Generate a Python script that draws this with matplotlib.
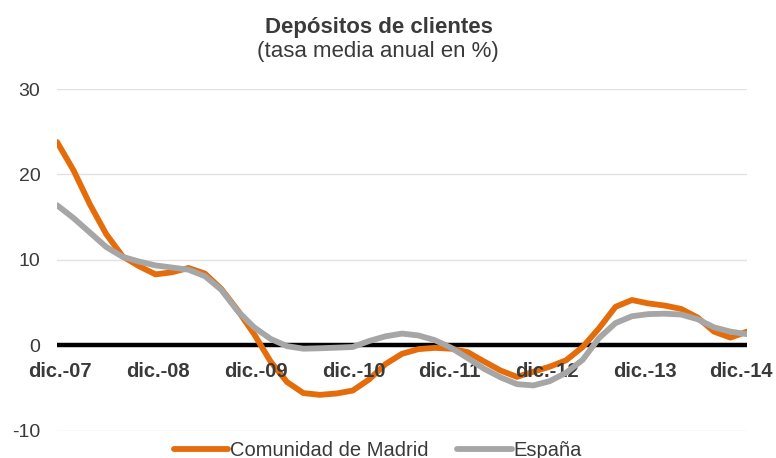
import numpy as np
import matplotlib
matplotlib.use("Agg")
import matplotlib.pyplot as plt

plt.rcParams['font.family'] = ['Liberation Sans', 'DejaVu Sans']
plt.rcParams['axes.unicode_minus'] = False

# months since dic.-07, one value every two months
meses = list(range(0, 85, 2))

madrid = [23.8, 20.5, 16.5, 13.0, 10.4, 9.25, 8.3, 8.55, 9.05, 8.4,
          6.6, 4.1, 1.3, -1.9, -4.3, -5.6, -5.8, -5.65, -5.3, -4.0,
          -2.2, -1.0, -0.45, -0.3, -0.4, -0.8, -1.9, -2.95, -3.7, -3.1,
          -2.5, -1.75, -0.2, 2.0, 4.5, 5.3, 4.9, 4.65, 4.25, 3.25,
          1.6, 0.9, 1.6]

espana = [16.4, 14.9, 13.2, 11.5, 10.35, 9.8, 9.35, 9.1, 8.85, 8.1,
          6.5, 4.0, 2.1, 0.75, -0.1, -0.4, -0.35, -0.28, -0.2, 0.5,
          1.05, 1.37, 1.15, 0.6, -0.3, -1.5, -2.75, -3.75, -4.55, -4.7,
          -4.2, -3.2, -1.7, 0.85, 2.6, 3.4, 3.65, 3.7, 3.6, 3.05,
          2.1, 1.6, 1.3]

etiquetas = ['dic.-07', 'dic.-08', 'dic.-09', 'dic.-10',
             'dic.-11', 'dic.-12', 'dic.-13', 'dic.-14']
pos_etiquetas = [0, 12, 24, 36, 48, 60, 72, 84]

naranja = '#E46C0A'
gris = '#A6A6A6'
texto = '#3a3a3a'

fig = plt.figure(figsize=(7.76, 4.58), dpi=100)
ax = fig.add_axes([0.0735, 0.0596, 0.889, 0.746])

ax.plot(meses, madrid, color=naranja, lw=4.2, solid_capstyle='round',
        solid_joinstyle='round', label='Comunidad de Madrid', zorder=3)
ax.plot(meses, espana, color=gris, lw=4.2, solid_capstyle='round',
        solid_joinstyle='round', label='España', zorder=4)

ax.set_xlim(0, 84)
ax.set_ylim(-10, 30)
ax.set_yticks([-10, 0, 10, 20, 30])
ax.yaxis.grid(True, color='#e2e2e2', lw=1)
ax.set_axisbelow(True)
ax.axhline(0, color='black', lw=3.2, zorder=2)

ax.set_xticks([])
ax.tick_params(axis='y', length=0, pad=12, labelsize=14, labelcolor=texto)
for s in ax.spines.values():
    s.set_visible(False)

# small horizontal nudges so the labels sit like in the original
desplaz = [3, 2, 2, 1, -2, -3, -3, -6]
for p, e, d in zip(pos_etiquetas, etiquetas, desplaz):
    ax.annotate(e, (p, -3.05), xytext=(d, 0), textcoords='offset pixels',
                ha='center', va='center', fontsize=14.5, fontweight='bold',
                color=texto, annotation_clip=False)

fig.text(379 / 776, 1 - 33 / 458, 'Depósitos de clientes', ha='center',
         va='baseline', fontsize=16, fontweight='bold', color=texto)
fig.text(378 / 776, 1 - 57 / 458, '(tasa media anual en %)', ha='center',
         va='baseline', fontsize=16, color=texto)

leg = fig.legend(loc='center', bbox_to_anchor=(378 / 776, 1 - 451 / 458),
                 ncol=2, frameon=False, fontsize=14.5, handlelength=2.7,
                 handletextpad=0.1, columnspacing=1.4, borderpad=0)
for t in leg.get_texts():
    t.set_color(texto)

fig.savefig('out.png', dpi=100)
